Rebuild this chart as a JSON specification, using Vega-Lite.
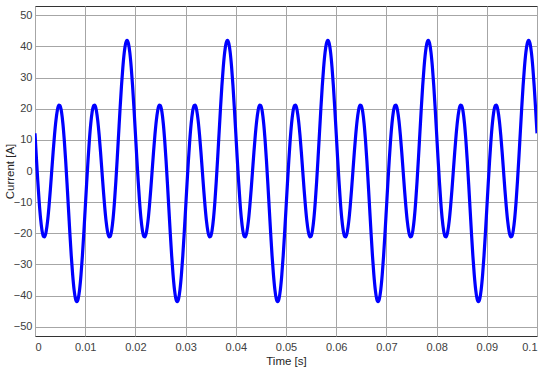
{
  "$schema": "https://vega.github.io/schema/vega-lite/v6.json",
  "width": 502,
  "height": 330,
  "autosize": {"type": "none"},
  "padding": {"left": 35, "top": 6, "right": 13, "bottom": 34},
  "background": "white",
  "config": {
    "view": {"stroke": "#333333", "strokeWidth": 1},
    "font": "Liberation Sans",
    "axis": {
      "labelFont": "Liberation Sans",
      "titleFont": "Liberation Sans",
      "labelFontSize": 11,
      "titleFontSize": 11.5,
      "titleFontWeight": "normal",
      "labelColor": "#404040",
      "titleColor": "#262626",
      "gridColor": "#a6a6a6",
      "gridOpacity": 1,
      "gridWidth": 1,
      "domain": false,
      "ticks": false
    }
  },
  "data": {"values": [
{"t":0,"i":12.12},{"t":0.000278,"i":4.22},{"t":0.000556,"i":-3.28},{"t":0.000833,"i":-9.9},{"t":0.001111,"i":-15.25},{"t":0.001389,"i":-19.02},{"t":0.001667,"i":-21.0},{"t":0.001944,"i":-21.13},{"t":0.002222,"i":-19.46},{"t":0.0025,"i":-16.18},{"t":0.002778,"i":-11.57},{"t":0.003056,"i":-6.03},{"t":0.003333,"i":0},{"t":0.003611,"i":6.03},{"t":0.003889,"i":11.57},{"t":0.004167,"i":16.18},{"t":0.004444,"i":19.46},{"t":0.004722,"i":21.13},{"t":0.005,"i":21.0},{"t":0.005278,"i":19.02},{"t":0.005556,"i":15.25},{"t":0.005833,"i":9.9},{"t":0.006111,"i":3.28},{"t":0.006389,"i":-4.22},{"t":0.006667,"i":-12.12},{"t":0.006944,"i":-19.94},{"t":0.007222,"i":-27.16},{"t":0.0075,"i":-33.32},{"t":0.007778,"i":-38.04},{"t":0.008056,"i":-40.99},{"t":0.008333,"i":-42.0},{"t":0.008611,"i":-40.99},{"t":0.008889,"i":-38.04},{"t":0.009167,"i":-33.32},{"t":0.009444,"i":-27.16},{"t":0.009722,"i":-19.94},
{"t":0.01,"i":-12.12},{"t":0.010278,"i":-4.22},{"t":0.010556,"i":3.28},{"t":0.010833,"i":9.9},{"t":0.011111,"i":15.25},{"t":0.011389,"i":19.02},{"t":0.011667,"i":21.0},{"t":0.011944,"i":21.13},{"t":0.012222,"i":19.46},{"t":0.0125,"i":16.18},{"t":0.012778,"i":11.57},{"t":0.013056,"i":6.03},{"t":0.013333,"i":0},{"t":0.013611,"i":-6.03},{"t":0.013889,"i":-11.57},{"t":0.014167,"i":-16.18},{"t":0.014444,"i":-19.46},{"t":0.014722,"i":-21.13},{"t":0.015,"i":-21.0},{"t":0.015278,"i":-19.02},{"t":0.015556,"i":-15.25},{"t":0.015833,"i":-9.9},{"t":0.016111,"i":-3.28},{"t":0.016389,"i":4.22},{"t":0.016667,"i":12.12},{"t":0.016944,"i":19.94},{"t":0.017222,"i":27.16},{"t":0.0175,"i":33.32},{"t":0.017778,"i":38.04},{"t":0.018056,"i":40.99},{"t":0.018333,"i":42.0},{"t":0.018611,"i":40.99},{"t":0.018889,"i":38.04},{"t":0.019167,"i":33.32},{"t":0.019444,"i":27.16},{"t":0.019722,"i":19.94},
{"t":0.02,"i":12.12},{"t":0.020278,"i":4.22},{"t":0.020556,"i":-3.28},{"t":0.020833,"i":-9.9},{"t":0.021111,"i":-15.25},{"t":0.021389,"i":-19.02},{"t":0.021667,"i":-21.0},{"t":0.021944,"i":-21.13},{"t":0.022222,"i":-19.46},{"t":0.0225,"i":-16.18},{"t":0.022778,"i":-11.57},{"t":0.023056,"i":-6.03},{"t":0.023333,"i":0},{"t":0.023611,"i":6.03},{"t":0.023889,"i":11.57},{"t":0.024167,"i":16.18},{"t":0.024444,"i":19.46},{"t":0.024722,"i":21.13},{"t":0.025,"i":21.0},{"t":0.025278,"i":19.02},{"t":0.025556,"i":15.25},{"t":0.025833,"i":9.9},{"t":0.026111,"i":3.28},{"t":0.026389,"i":-4.22},{"t":0.026667,"i":-12.12},{"t":0.026944,"i":-19.94},{"t":0.027222,"i":-27.16},{"t":0.0275,"i":-33.32},{"t":0.027778,"i":-38.04},{"t":0.028056,"i":-40.99},{"t":0.028333,"i":-42.0},{"t":0.028611,"i":-40.99},{"t":0.028889,"i":-38.04},{"t":0.029167,"i":-33.32},{"t":0.029444,"i":-27.16},{"t":0.029722,"i":-19.94},
{"t":0.03,"i":-12.12},{"t":0.030278,"i":-4.22},{"t":0.030556,"i":3.28},{"t":0.030833,"i":9.9},{"t":0.031111,"i":15.25},{"t":0.031389,"i":19.02},{"t":0.031667,"i":21.0},{"t":0.031944,"i":21.13},{"t":0.032222,"i":19.46},{"t":0.0325,"i":16.18},{"t":0.032778,"i":11.57},{"t":0.033056,"i":6.03},{"t":0.033333,"i":0},{"t":0.033611,"i":-6.03},{"t":0.033889,"i":-11.57},{"t":0.034167,"i":-16.18},{"t":0.034444,"i":-19.46},{"t":0.034722,"i":-21.13},{"t":0.035,"i":-21.0},{"t":0.035278,"i":-19.02},{"t":0.035556,"i":-15.25},{"t":0.035833,"i":-9.9},{"t":0.036111,"i":-3.28},{"t":0.036389,"i":4.22},{"t":0.036667,"i":12.12},{"t":0.036944,"i":19.94},{"t":0.037222,"i":27.16},{"t":0.0375,"i":33.32},{"t":0.037778,"i":38.04},{"t":0.038056,"i":40.99},{"t":0.038333,"i":42.0},{"t":0.038611,"i":40.99},{"t":0.038889,"i":38.04},{"t":0.039167,"i":33.32},{"t":0.039444,"i":27.16},{"t":0.039722,"i":19.94},
{"t":0.04,"i":12.12},{"t":0.040278,"i":4.22},{"t":0.040556,"i":-3.28},{"t":0.040833,"i":-9.9},{"t":0.041111,"i":-15.25},{"t":0.041389,"i":-19.02},{"t":0.041667,"i":-21.0},{"t":0.041944,"i":-21.13},{"t":0.042222,"i":-19.46},{"t":0.0425,"i":-16.18},{"t":0.042778,"i":-11.57},{"t":0.043056,"i":-6.03},{"t":0.043333,"i":0},{"t":0.043611,"i":6.03},{"t":0.043889,"i":11.57},{"t":0.044167,"i":16.18},{"t":0.044444,"i":19.46},{"t":0.044722,"i":21.13},{"t":0.045,"i":21.0},{"t":0.045278,"i":19.02},{"t":0.045556,"i":15.25},{"t":0.045833,"i":9.9},{"t":0.046111,"i":3.28},{"t":0.046389,"i":-4.22},{"t":0.046667,"i":-12.12},{"t":0.046944,"i":-19.94},{"t":0.047222,"i":-27.16},{"t":0.0475,"i":-33.32},{"t":0.047778,"i":-38.04},{"t":0.048056,"i":-40.99},{"t":0.048333,"i":-42.0},{"t":0.048611,"i":-40.99},{"t":0.048889,"i":-38.04},{"t":0.049167,"i":-33.32},{"t":0.049444,"i":-27.16},{"t":0.049722,"i":-19.94},
{"t":0.05,"i":-12.12},{"t":0.050278,"i":-4.22},{"t":0.050556,"i":3.28},{"t":0.050833,"i":9.9},{"t":0.051111,"i":15.25},{"t":0.051389,"i":19.02},{"t":0.051667,"i":21.0},{"t":0.051944,"i":21.13},{"t":0.052222,"i":19.46},{"t":0.0525,"i":16.18},{"t":0.052778,"i":11.57},{"t":0.053056,"i":6.03},{"t":0.053333,"i":0},{"t":0.053611,"i":-6.03},{"t":0.053889,"i":-11.57},{"t":0.054167,"i":-16.18},{"t":0.054444,"i":-19.46},{"t":0.054722,"i":-21.13},{"t":0.055,"i":-21.0},{"t":0.055278,"i":-19.02},{"t":0.055556,"i":-15.25},{"t":0.055833,"i":-9.9},{"t":0.056111,"i":-3.28},{"t":0.056389,"i":4.22},{"t":0.056667,"i":12.12},{"t":0.056944,"i":19.94},{"t":0.057222,"i":27.16},{"t":0.0575,"i":33.32},{"t":0.057778,"i":38.04},{"t":0.058056,"i":40.99},{"t":0.058333,"i":42.0},{"t":0.058611,"i":40.99},{"t":0.058889,"i":38.04},{"t":0.059167,"i":33.32},{"t":0.059444,"i":27.16},{"t":0.059722,"i":19.94},
{"t":0.06,"i":12.12},{"t":0.060278,"i":4.22},{"t":0.060556,"i":-3.28},{"t":0.060833,"i":-9.9},{"t":0.061111,"i":-15.25},{"t":0.061389,"i":-19.02},{"t":0.061667,"i":-21.0},{"t":0.061944,"i":-21.13},{"t":0.062222,"i":-19.46},{"t":0.0625,"i":-16.18},{"t":0.062778,"i":-11.57},{"t":0.063056,"i":-6.03},{"t":0.063333,"i":0},{"t":0.063611,"i":6.03},{"t":0.063889,"i":11.57},{"t":0.064167,"i":16.18},{"t":0.064444,"i":19.46},{"t":0.064722,"i":21.13},{"t":0.065,"i":21.0},{"t":0.065278,"i":19.02},{"t":0.065556,"i":15.25},{"t":0.065833,"i":9.9},{"t":0.066111,"i":3.28},{"t":0.066389,"i":-4.22},{"t":0.066667,"i":-12.12},{"t":0.066944,"i":-19.94},{"t":0.067222,"i":-27.16},{"t":0.0675,"i":-33.32},{"t":0.067778,"i":-38.04},{"t":0.068056,"i":-40.99},{"t":0.068333,"i":-42.0},{"t":0.068611,"i":-40.99},{"t":0.068889,"i":-38.04},{"t":0.069167,"i":-33.32},{"t":0.069444,"i":-27.16},{"t":0.069722,"i":-19.94},
{"t":0.07,"i":-12.12},{"t":0.070278,"i":-4.22},{"t":0.070556,"i":3.28},{"t":0.070833,"i":9.9},{"t":0.071111,"i":15.25},{"t":0.071389,"i":19.02},{"t":0.071667,"i":21.0},{"t":0.071944,"i":21.13},{"t":0.072222,"i":19.46},{"t":0.0725,"i":16.18},{"t":0.072778,"i":11.57},{"t":0.073056,"i":6.03},{"t":0.073333,"i":0},{"t":0.073611,"i":-6.03},{"t":0.073889,"i":-11.57},{"t":0.074167,"i":-16.18},{"t":0.074444,"i":-19.46},{"t":0.074722,"i":-21.13},{"t":0.075,"i":-21.0},{"t":0.075278,"i":-19.02},{"t":0.075556,"i":-15.25},{"t":0.075833,"i":-9.9},{"t":0.076111,"i":-3.28},{"t":0.076389,"i":4.22},{"t":0.076667,"i":12.12},{"t":0.076944,"i":19.94},{"t":0.077222,"i":27.16},{"t":0.0775,"i":33.32},{"t":0.077778,"i":38.04},{"t":0.078056,"i":40.99},{"t":0.078333,"i":42.0},{"t":0.078611,"i":40.99},{"t":0.078889,"i":38.04},{"t":0.079167,"i":33.32},{"t":0.079444,"i":27.16},{"t":0.079722,"i":19.94},
{"t":0.08,"i":12.12},{"t":0.080278,"i":4.22},{"t":0.080556,"i":-3.28},{"t":0.080833,"i":-9.9},{"t":0.081111,"i":-15.25},{"t":0.081389,"i":-19.02},{"t":0.081667,"i":-21.0},{"t":0.081944,"i":-21.13},{"t":0.082222,"i":-19.46},{"t":0.0825,"i":-16.18},{"t":0.082778,"i":-11.57},{"t":0.083056,"i":-6.03},{"t":0.083333,"i":0},{"t":0.083611,"i":6.03},{"t":0.083889,"i":11.57},{"t":0.084167,"i":16.18},{"t":0.084444,"i":19.46},{"t":0.084722,"i":21.13},{"t":0.085,"i":21.0},{"t":0.085278,"i":19.02},{"t":0.085556,"i":15.25},{"t":0.085833,"i":9.9},{"t":0.086111,"i":3.28},{"t":0.086389,"i":-4.22},{"t":0.086667,"i":-12.12},{"t":0.086944,"i":-19.94},{"t":0.087222,"i":-27.16},{"t":0.0875,"i":-33.32},{"t":0.087778,"i":-38.04},{"t":0.088056,"i":-40.99},{"t":0.088333,"i":-42.0},{"t":0.088611,"i":-40.99},{"t":0.088889,"i":-38.04},{"t":0.089167,"i":-33.32},{"t":0.089444,"i":-27.16},{"t":0.089722,"i":-19.94},
{"t":0.09,"i":-12.12},{"t":0.090278,"i":-4.22},{"t":0.090556,"i":3.28},{"t":0.090833,"i":9.9},{"t":0.091111,"i":15.25},{"t":0.091389,"i":19.02},{"t":0.091667,"i":21.0},{"t":0.091944,"i":21.13},{"t":0.092222,"i":19.46},{"t":0.0925,"i":16.18},{"t":0.092778,"i":11.57},{"t":0.093056,"i":6.03},{"t":0.093333,"i":0},{"t":0.093611,"i":-6.03},{"t":0.093889,"i":-11.57},{"t":0.094167,"i":-16.18},{"t":0.094444,"i":-19.46},{"t":0.094722,"i":-21.13},{"t":0.095,"i":-21.0},{"t":0.095278,"i":-19.02},{"t":0.095556,"i":-15.25},{"t":0.095833,"i":-9.9},{"t":0.096111,"i":-3.28},{"t":0.096389,"i":4.22},{"t":0.096667,"i":12.12},{"t":0.096944,"i":19.94},{"t":0.097222,"i":27.16},{"t":0.0975,"i":33.32},{"t":0.097778,"i":38.04},{"t":0.098056,"i":40.99},{"t":0.098333,"i":42.0},{"t":0.098611,"i":40.99},{"t":0.098889,"i":38.04},{"t":0.099167,"i":33.32},{"t":0.099444,"i":27.16},{"t":0.099722,"i":19.94},
{"t":0.1,"i":12.12}
  ]},
  "mark": {"type": "line", "color": "#0000ff", "strokeWidth": 3.2, "interpolate": "monotone", "clip": true},
  "encoding": {
    "x": {
      "field": "t", "type": "quantitative",
      "scale": {"domain": [0, 0.1], "nice": false, "zero": false},
      "axis": {"values": [0, 0.01, 0.02, 0.03, 0.04, 0.05, 0.06, 0.07, 0.08, 0.09, 0.1], "format": "~g", "title": "Time [s]", "labelPadding": 5, "titlePadding": 3}
    },
    "y": {
      "field": "i", "type": "quantitative",
      "scale": {"domain": [-53, 53], "nice": false, "zero": false},
      "axis": {"values": [-50, -40, -30, -20, -10, 0, 10, 20, 30, 40, 50], "title": "Current [A]", "labelPadding": 3, "titleX": -20, "titleY": 165, "titleBaseline": "bottom", "titleAnchor": "middle"}
    }
  }
}
